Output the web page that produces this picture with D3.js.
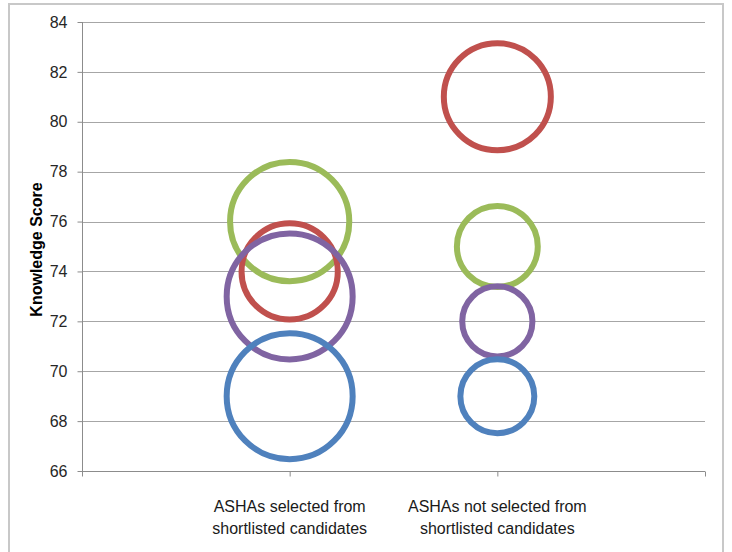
<!DOCTYPE html>
<html>
<head>
<meta charset="utf-8">
<script src="https://cdn.jsdelivr.net/npm/d3@7/dist/d3.min.js"></script>
<style>
  body { margin: 0; background: #fff; }
  svg { display: block; font-family: "Liberation Sans", Arial, sans-serif; }
</style>
</head>
<body>
<svg id="chart" width="732" height="552"></svg>
<script>
// categories on the x axis (1 and 2), each label split on two lines
const categories = [
    ["ASHAs selected from", "shortlisted candidates"],
    ["ASHAs not selected from", "shortlisted candidates"]
];
const categoryX = [1, 2];

// knowledge score (bubble centre) per series, one value per category
const blueScores = [69, 69];
const redScores = [74, 81];
const greenScores = [76, 75];
const purpleScores = [73, 72];

// bubble sizes per series, one value per category
const blueSizes = [30, 11];
const redSizes = [18, 22];
const greenSizes = [27, 13];
const purpleSizes = [30, 10];

const yTicks = [66, 68, 70, 72, 74, 76, 78, 80, 82, 84];

const svg = d3.select('#chart');

const PLOT_LEFT = 82;
const PLOT_RIGHT = 705;
const PLOT_TOP = 22;
const PLOT_BOTTOM = 471;
const STROKE = 6;

const COLORS = {
    blue: '#4f81bd',
    red: '#c0504d',
    green: '#9bbb59',
    purple: '#8064a2'
};

// draw order: later ones sit on top
const series = [
    {color: COLORS.green, scores: greenScores, sizes: greenSizes},
    {color: COLORS.red, scores: redScores, sizes: redSizes},
    {color: COLORS.purple, scores: purpleScores, sizes: purpleSizes},
    {color: COLORS.blue, scores: blueScores, sizes: blueSizes}
];

const x = d3.scaleLinear().domain([0, 3]).range([PLOT_LEFT, PLOT_RIGHT]);
const y = d3.scaleLinear().domain([66, 84]).range([PLOT_BOTTOM, PLOT_TOP]);
const r = d3.scaleSqrt().domain([0, 30]).range([0, 66]);

// outer frame of the chart
svg.append('rect')
    .attr('x', 9)
    .attr('y', 4)
    .attr('width', 714)
    .attr('height', 560)
    .attr('fill', '#fff')
    .attr('stroke', '#c8c8c8')
    .attr('stroke-width', 2);

// horizontal gridlines
svg.append('g')
    .selectAll('line')
    .data(yTicks.filter(d => d !== 66))
    .join('line')
    .attr('x1', PLOT_LEFT)
    .attr('x2', PLOT_RIGHT)
    .attr('y1', d => Math.round(y(d)) + 0.5)
    .attr('y2', d => Math.round(y(d)) + 0.5)
    .attr('stroke', '#a6a6a6')
    .attr('stroke-width', 1);

// y axis
const yAxis = svg.append('g')
    .attr('transform', `translate(${PLOT_LEFT + 0.5},0)`)
    .call(d3.axisLeft(y).tickValues(yTicks).tickSize(5).tickPadding(10).tickFormat(d3.format('d')));
yAxis.selectAll('.domain').attr('d', `M-0,${PLOT_TOP}V${PLOT_BOTTOM + 5}`).attr('stroke', '#8c8c8c');
yAxis.selectAll('.tick line').attr('stroke', '#8c8c8c');
yAxis.selectAll('.tick text')
    .attr('font-size', 16)
    .attr('font-family', '"Liberation Sans", Arial, sans-serif')
    .attr('fill', '#262626');

// x axis
const xAxis = svg.append('g')
    .attr('transform', `translate(0,${Math.round(y(66)) + 0.5})`)
    .call(d3.axisBottom(x).tickValues([0, 1, 2, 3]).tickSize(5).tickFormat(''));
xAxis.selectAll('.domain').attr('d', `M${PLOT_LEFT},0H${PLOT_RIGHT}`).attr('stroke', '#8c8c8c');
xAxis.selectAll('.tick line').attr('stroke', '#8c8c8c');

// category labels
categories.forEach((lines, i) => {
    const t = svg.append('text')
        .attr('x', x(categoryX[i]))
        .attr('y', 512)
        .attr('text-anchor', 'middle')
        .attr('font-size', 16)
        .attr('fill', '#1a1a1a');
    lines.forEach((line, k) => {
        t.append('tspan')
            .attr('x', x(categoryX[i]))
            .attr('dy', k === 0 ? 0 : 22)
            .text(line);
    });
});

// y axis title
svg.append('text')
    .attr('transform', 'translate(41.5,249.5) rotate(-90)')
    .attr('text-anchor', 'middle')
    .attr('font-size', 16)
    .attr('font-weight', 'bold')
    .attr('fill', '#000')
    .text('Knowledge Score');

// bubbles (hollow rings)
series.forEach(s => {
    svg.append('g')
        .selectAll('circle')
        .data(s.scores.map((v, i) => ({x: categoryX[i], score: v, size: s.sizes[i]})))
        .join('circle')
        .attr('cx', d => x(d.x))
        .attr('cy', d => y(d.score))
        .attr('r', d => r(d.size) - STROKE / 2)
        .attr('fill', 'none')
        .attr('stroke', s.color)
        .attr('stroke-width', STROKE);
});
</script>
</body>
</html>
